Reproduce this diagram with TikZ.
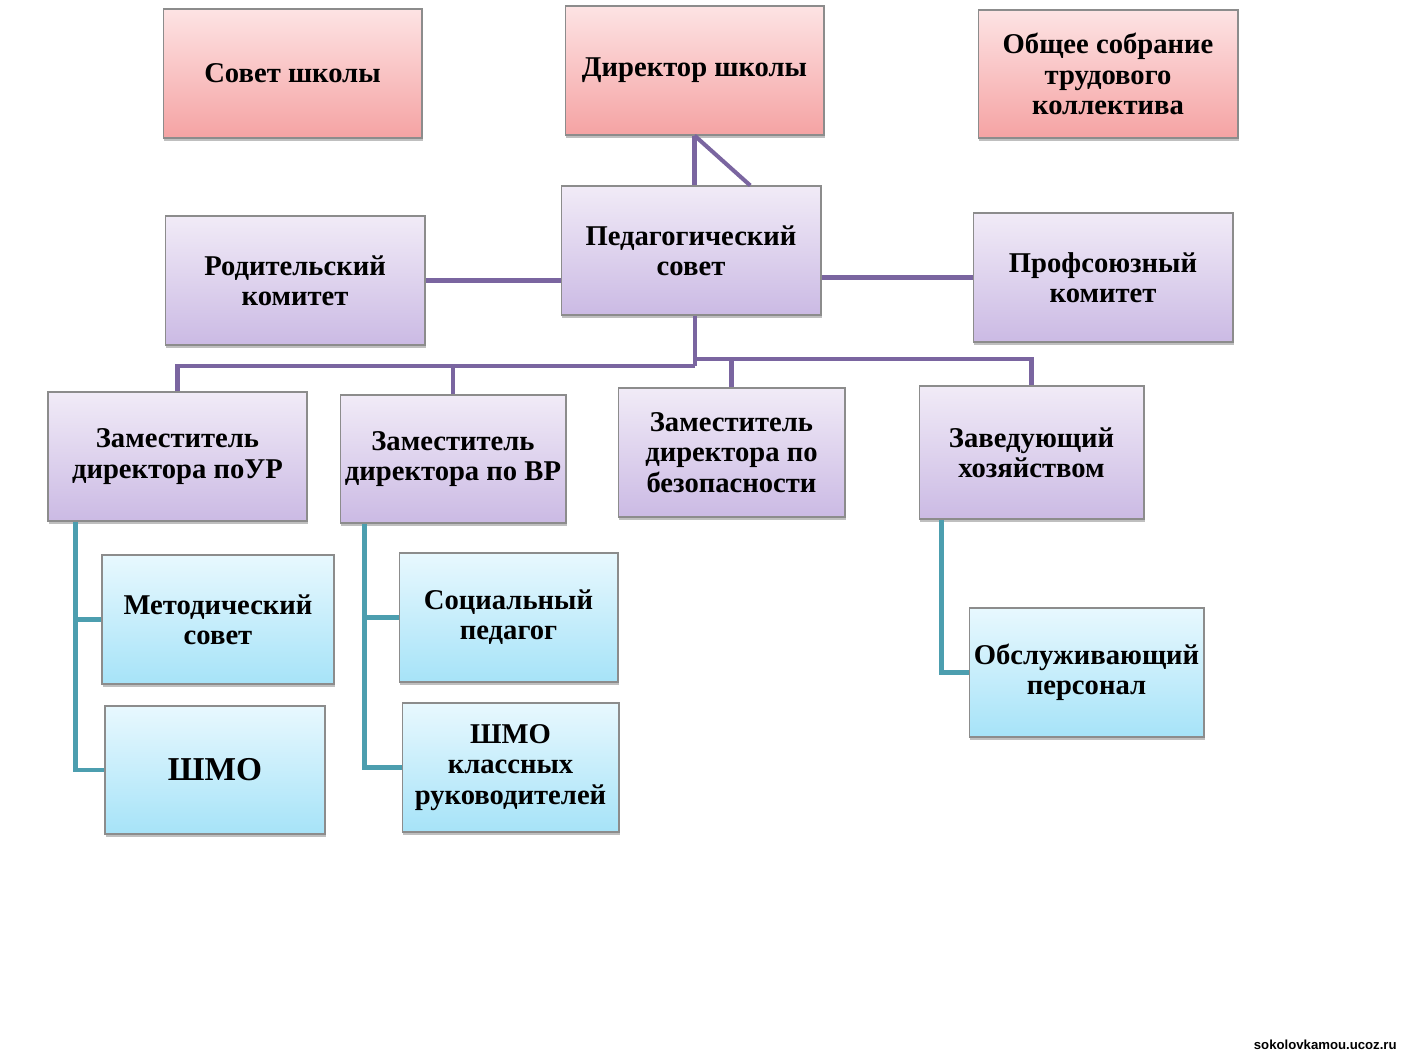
\documentclass[tikz,border=0pt]{standalone}
\usepackage{fontspec}
\setmainfont{Liberation Serif}
\newfontfamily\wmfont{Liberation Sans}
\usetikzlibrary{shadows,calc}
\definecolor{pinkT}{HTML}{FDE3E4}
\definecolor{pinkB}{HTML}{F5A3A3}
\definecolor{purT}{HTML}{F1EBF7}
\definecolor{purB}{HTML}{CBBAE4}
\definecolor{bluT}{HTML}{E8F8FE}
\definecolor{bluB}{HTML}{A6E3F8}
\definecolor{edgeGray}{HTML}{8C8C8C}
\definecolor{purLine}{HTML}{7A65A0}
\definecolor{tealLine}{HTML}{4C9EAF}
\tikzset{
  basebox/.style={draw=edgeGray, line width=0.6pt, align=center, inner sep=2pt,
    font=\fontsize{16.3}{17.2}\selectfont\bfseries,
    drop shadow={shadow xshift=0.6pt, shadow yshift=-1.8pt, opacity=0.25, fill=black}},
  pinkbox/.style={basebox, top color=pinkT, bottom color=pinkB},
  purbox/.style={basebox, top color=purT, bottom color=purB},
  blubox/.style={basebox, top color=bluT, bottom color=bluB},
  purlink/.style={draw=purLine, line width=2.3pt},
  teallink/.style={draw=tealLine, line width=2.3pt},
}
\begin{document}
\begin{tikzpicture}[x=0.02cm, y=-0.02cm]
\useasboundingbox[fill=white] (0,0) rectangle (1402,1055);

% top row
\node[pinkbox, minimum width=5.18cm, minimum height=2.58cm] (sovet) at (292.5,73.5) {Совет школы};
\node[pinkbox, minimum width=5.18cm, minimum height=2.58cm] (dir) at (694.5,70.5) {Директор школы};
\node[pinkbox, minimum width=5.2cm, minimum height=2.56cm] (obsh) at (1108,74) {Общее собрание\\трудового\\коллектива};

% second row
\node[purbox, minimum width=5.2cm, minimum height=2.58cm] (ped) at (691,250.5) {Педагогический\\совет};
\node[purbox, minimum width=5.2cm, minimum height=2.58cm] (rod) at (295,280.5) {Родительский\\комитет};
\node[purbox, minimum width=5.2cm, minimum height=2.58cm] (prof) at (1103,277.5) {Профсоюзный\\комитет};

% deputies
\node[purbox, minimum width=5.18cm, minimum height=2.58cm] (zur) at (177.5,456.5) {Заместитель\\директора поУР};
\node[purbox, minimum width=4.52cm, minimum height=2.56cm] (zvr) at (453,459) {Заместитель\\директора по ВР};
\node[purbox, minimum width=4.54cm, minimum height=2.58cm] (zbez) at (731.5,452.5) {Заместитель\\директора по\\безопасности};
\node[purbox, minimum width=4.5cm, minimum height=2.66cm] (zav) at (1031.5,452.5) {Заведующий\\хозяйством};

% lower boxes
\node[blubox, minimum width=4.64cm, minimum height=2.58cm] (met) at (218,619.5) {Методический\\совет};
\node[blubox, minimum width=4.4cm, minimum height=2.56cm, font=\fontsize{19}{21}\selectfont\bfseries] (shmo) at (215,770) {ШМО};
\node[blubox, minimum width=4.38cm, minimum height=2.58cm] (soc) at (508.5,617.5) {Социальный\\педагог};
\node[blubox, minimum width=4.34cm, minimum height=2.58cm] (shmok) at (510.5,767.5) {ШМО\\классных\\руководителей};
\node[blubox, minimum width=4.7cm, minimum height=2.58cm] (obs) at (1086.5,672.5) {Обслуживающий\\персонал};

% purple connectors
\draw[purlink] (dir.south) -- (dir.south |- ped.north);
\draw[purlink] (dir.south) -- ($(ped.north west)!0.727!(ped.north east)$);
\draw[purlink] (rod.east) -- (rod.east -| ped.west);
\draw[purlink] (ped.east |- prof.west) -- (prof.west);
\draw[purlink] ([xshift=0.08cm]ped.south) -- ++(0,50) coordinate (hubL);
\draw[purlink] (zur.north) |- (hubL);
\draw[purlink] (zvr.north) -- (zvr.north |- hubL);
\coordinate (hubR) at ($(hubL)+(0,-7)$);
\draw[purlink] (hubR) -| (zav.north);
\draw[purlink] (zbez.north) -- (zbez.north |- hubR);

% teal connectors
\draw[teallink] ([xshift=0.56cm]zur.south west) coordinate (tu) |- (shmo.west);
\draw[teallink] (met.west) -- (met.west -| tu);
\draw[teallink] ([xshift=0.5cm]zvr.south west) coordinate (tv) |- (shmok.west);
\draw[teallink] (soc.west) -- (soc.west -| tv);
\draw[teallink] ([xshift=0.46cm]zav.south west) |- (obs.west);

% watermark
\node[anchor=east, font=\wmfont\fontsize{7.5}{8}\selectfont\bfseries, inner sep=0pt] (wm) at (1397,1045) {sokolovkamou.ucoz.ru};
\end{tikzpicture}
\end{document}
